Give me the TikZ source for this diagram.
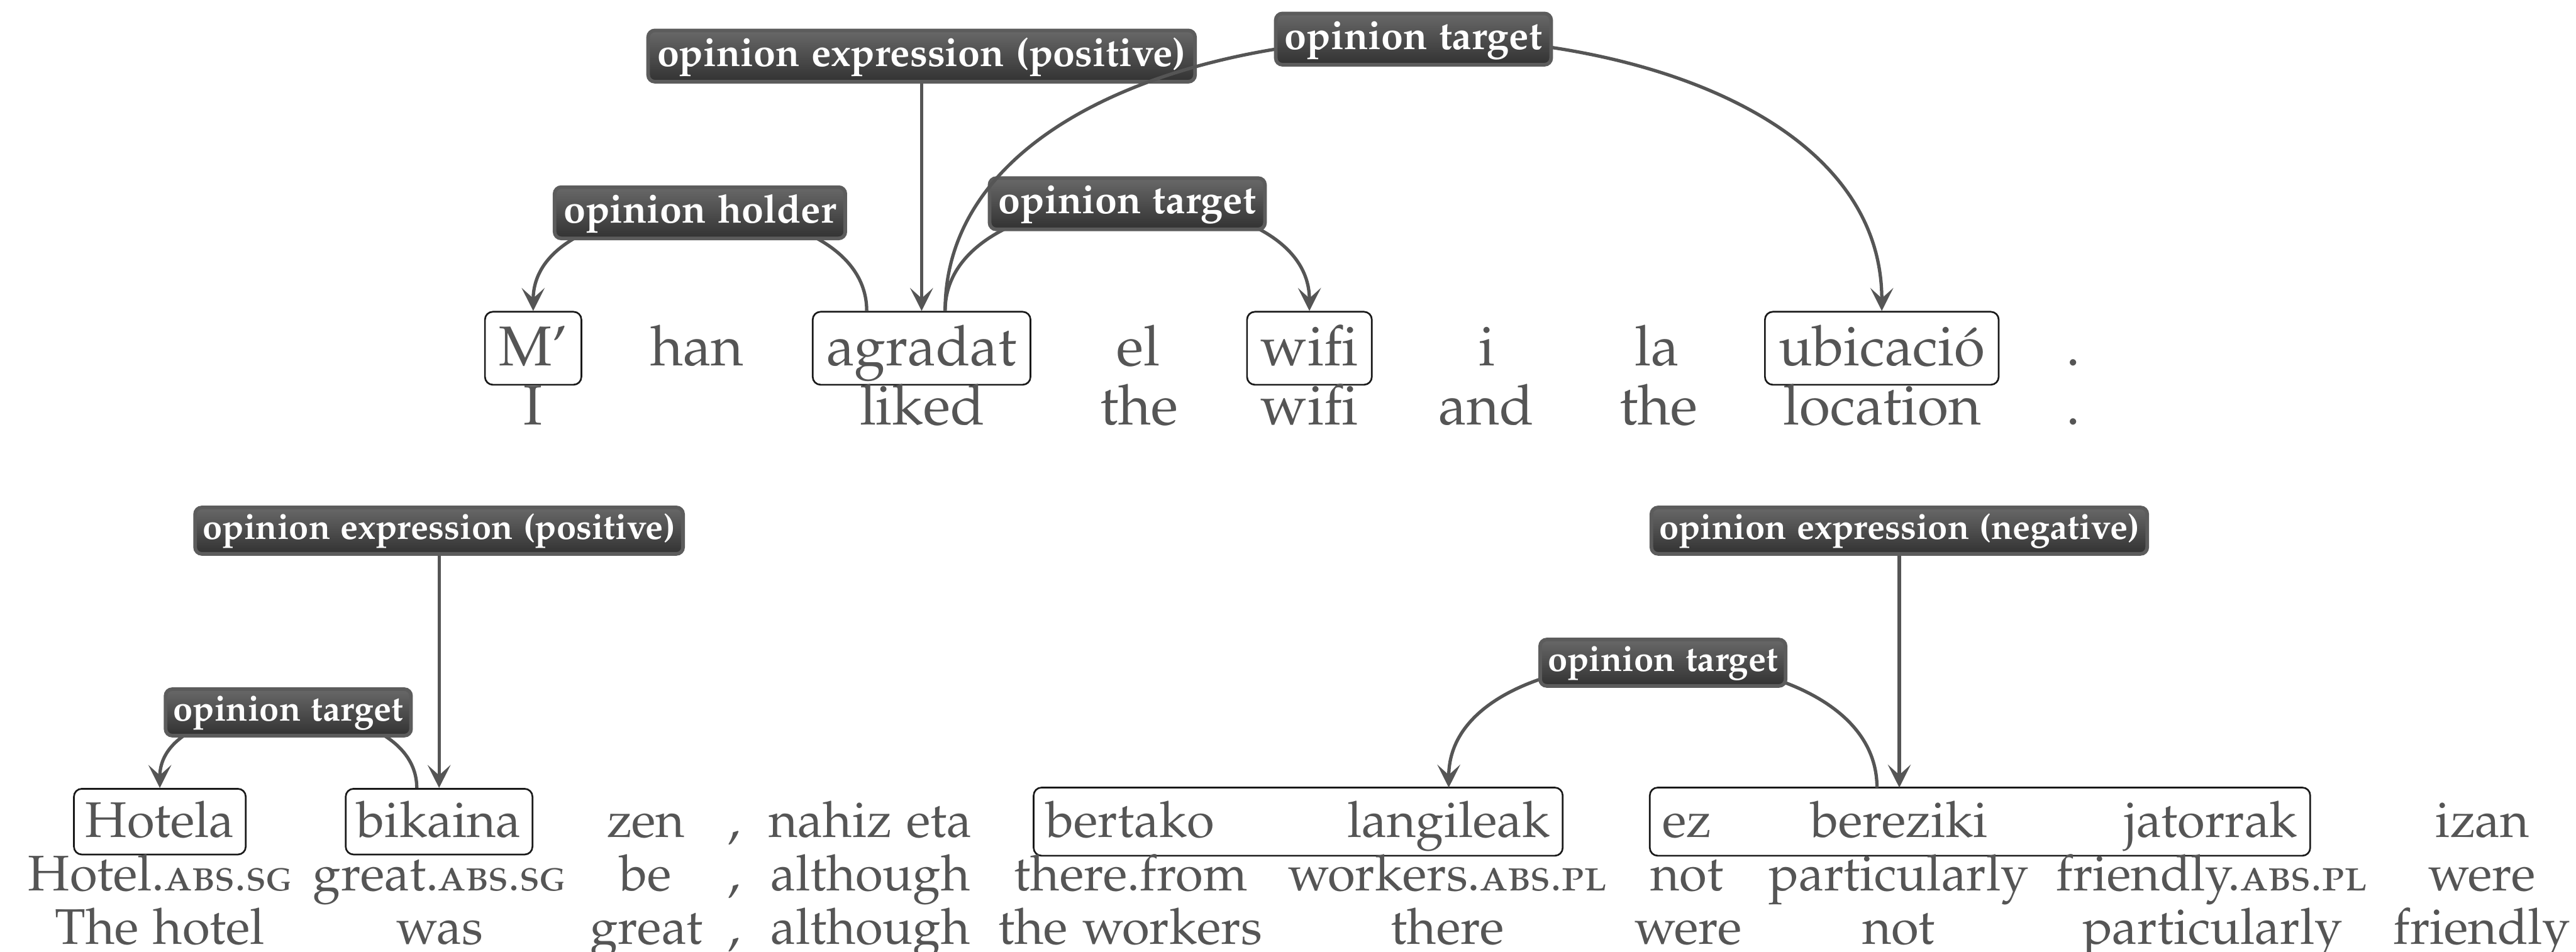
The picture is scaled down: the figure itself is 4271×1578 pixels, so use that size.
\documentclass[tikz,border=0pt]{standalone}
\usepackage[T1]{fontenc}
\usepackage[sc]{mathpazo}
\usepackage{xcolor}
\usepackage{tikz}
\usetikzlibrary{arrows.meta,fit,positioning}

\definecolor{txtgray}{RGB}{85,85,85}
\definecolor{labtop}{RGB}{104,104,104}
\definecolor{labbot}{RGB}{50,50,50}
\definecolor{labedge}{RGB}{92,92,92}
\definecolor{boxc}{RGB}{25,25,25}
\newcommand{\glabbr}[1]{{\fontsize{7.5}{9}\selectfont\textsc{#1}}}

\begin{document}
\begin{tikzpicture}[
    x=0.1pt, y=0.1pt,
    word/.style={anchor=base,text=txtgray,font=\fontsize{9.3}{11}\selectfont,text height=7.9pt,text depth=2.2pt,inner ysep=1pt,inner xsep=2.3pt},
    gloss/.style={anchor=base,text=txtgray,font=\fontsize{9.3}{11}\selectfont,inner sep=0pt},
    lword/.style={anchor=base,text=txtgray,font=\fontsize{8.3}{10}\selectfont,text height=7pt,text depth=1.9pt,inner ysep=1pt,inner xsep=1.9pt},
    lgloss/.style={anchor=base,text=txtgray,font=\fontsize{8.3}{10}\selectfont,inner sep=0pt},
    wbox/.style={draw=boxc,line width=0.28pt,rounded corners=1.3pt},
    lab/.style={draw=labedge,line width=0.6pt,rounded corners=1.1pt,top color=labtop,bottom color=labbot,text=white,font=\bfseries\fontsize{6.55}{8}\selectfont,inner xsep=1.5pt,inner ysep=1pt,text height=4.9pt,text depth=1.6pt},
    llab/.style={lab,font=\bfseries\fontsize{5.85}{7}\selectfont,inner xsep=1.3pt,inner ysep=0.9pt,text height=4.4pt,text depth=1.5pt},
    edge/.style={draw=txtgray,line width=0.55pt},
    >={Stealth[length=3.8pt,width=3.8pt,inset=1.7pt]},
]
    \useasboundingbox (0,0) rectangle (4271,-1578);

    % Catalan sentence
    \node[word,wbox] (wM) at (884,-606) {M'};
    \node[word] (whan) at (1156,-606) {han};
    \node[word,wbox] (wagradat) at (1528,-606) {agradat};
    \node[word] (wel) at (1887,-606) {el};
    \node[word,wbox] (wwifi) at (2171,-606) {wifi};
    \node[word] (wi) at (2465,-606) {i};
    \node[word] (wla) at (2747,-606) {la};
    \node[word,wbox] (wubic) at (3120,-606) {ubicaci\'o};
    \node[word] (wdot) at (3437,-606) {.};

    \node[gloss] (gI) at (884,-704) {I};
    \node[gloss] (gliked) at (1529,-704) {liked};
    \node[gloss] (gthe) at (1889,-704) {the};
    \node[gloss] (gwifi) at (2171,-704) {wifi};
    \node[gloss] (gand) at (2464,-704) {and};
    \node[gloss] (gthe2) at (2750,-704) {the};
    \node[gloss] (glocation) at (3121,-704) {location};
    \node[gloss] (gdot) at (3437,-704) {.};

    \node[lab] (loepos) at (1528,-93) {opinion expression (positive)};
    \draw[edge,->] (loepos) -- (wagradat);
    \draw[edge,->] ([xshift=-9.1pt]wagradat.north) .. controls +(0,217) and +(0,217) .. (wM.north)
        node[lab,pos=0.5] (lholder) {opinion holder};
    \draw[edge,->] ([xshift=3.9pt]wagradat.north) .. controls +(0,237) and +(0,237) .. (wwifi.north)
        node[lab,pos=0.5] (ltgtwifi) {opinion target};
    \draw[edge,->] ([xshift=3.9pt]wagradat.north) .. controls +(0,601) and +(0,601) .. (wubic.north)
        node[lab,pos=0.5] (ltgtubic) {opinion target};

    % Basque sentence
    \node[lword,wbox] (wHotela) at (265,-1388) {Hotela};
    \node[lword,wbox] (wbikaina) at (728,-1388) {bikaina};
    \node[lword] (wzen) at (1071,-1388) {zen};
    \node[lword] (wcomma) at (1217,-1388) {,};
    \node[lword] (wnahiz) at (1443,-1388) {nahiz eta};
    \node[lword] (wbertako) at (1874,-1388) {bertako};
    \node[lword] (wlangileak) at (2402,-1388) {langileak};
    \node[lword] (wez) at (2797,-1388) {ez};
    \node[lword] (wbereziki) at (3149,-1388) {bereziki};
    \node[lword] (wjatorrak) at (3666,-1388) {jatorrak};
    \node[lword] (wizan) at (4116,-1388) {izan};
    \node[wbox,fit=(wbertako)(wlangileak),inner sep=0pt] (gworkers) {};
    \node[wbox,fit=(wez)(wjatorrak),inner sep=0pt] (gfriendly) {};

    \node[lgloss] (ghotel) at (265,-1477) {Hotel.\glabbr{abs.sg}};
    \node[lgloss] (ggreat) at (728,-1477) {great.\glabbr{abs.sg}};
    \node[lgloss] (gbe) at (1070,-1477) {be};
    \node[lgloss] (gcomma) at (1217,-1477) {,};
    \node[lgloss] (galthough) at (1443,-1477) {although};
    \node[lgloss] (gtherefrom) at (1875,-1477) {there.from};
    \node[lgloss] (gworkersabs) at (2400,-1477) {workers.\glabbr{abs.pl}};
    \node[lgloss] (gnot) at (2797,-1477) {not};
    \node[lgloss] (gparticularly) at (3148,-1477) {particularly};
    \node[lgloss] (gfriendlyabs) at (3667,-1477) {friendly.\glabbr{abs.pl}};
    \node[lgloss] (gwere) at (4115,-1477) {were};

    \node[lgloss] (tthehotel) at (265,-1566) {The hotel};
    \node[lgloss] (twas) at (729,-1566) {was};
    \node[lgloss] (tgreat) at (1072,-1566) {great};
    \node[lgloss] (tcomma) at (1217,-1566) {,};
    \node[lgloss] (talthough) at (1443,-1566) {although};
    \node[lgloss] (ttheworkers) at (1874,-1566) {the workers};
    \node[lgloss] (tthere) at (2400,-1566) {there};
    \node[lgloss] (twere) at (2799,-1566) {were};
    \node[lgloss] (tnot) at (3148,-1566) {not};
    \node[lgloss] (tparticularly) at (3668,-1566) {particularly};
    \node[lgloss] (tfriendly) at (4115,-1566) {friendly};

    \node[llab] (loepos2) at (728,-880) {opinion expression (positive)};
    \draw[edge,->] (loepos2) -- (wbikaina);
    \draw[edge,->] ([xshift=-3.7pt]wbikaina.north) .. controls +(0,167) and +(0,167) .. (wHotela.north)
        node[llab,pos=0.5] (ltgthotel) {opinion target};
    \node[llab] (loeneg) at (3149,-880) {opinion expression (negative)};
    \draw[edge,->] (loeneg) -- (wbereziki);
    \draw[edge,->] ([xshift=-3.7pt]wbereziki.north) .. controls +(0,276) and +(0,276) .. (wlangileak.north)
        node[llab,pos=0.5] (ltgtwork) {opinion target};
\end{tikzpicture}
\end{document}
